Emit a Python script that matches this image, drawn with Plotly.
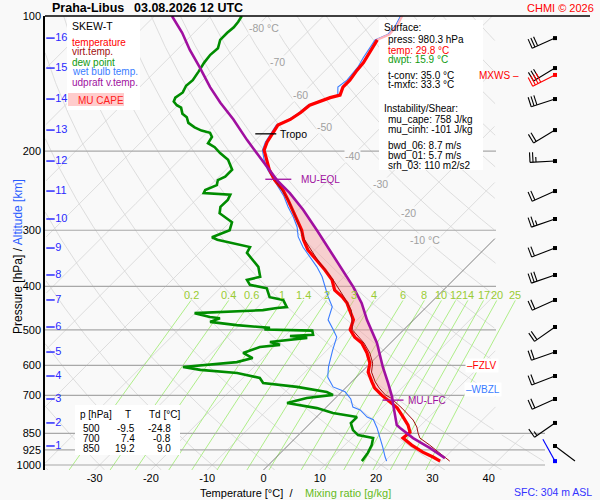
import numpy as np
import plotly.graph_objects as go

# ---- sounding Praha-Libus 03.08.2026 12 UTC ----
temp_p = [100, 102, 105, 110, 113, 117, 122, 127, 132, 139, 144, 150, 152, 155, 158,
          164, 170, 175, 182, 186, 191, 199, 209, 220, 232, 244, 257, 270, 285, 300,
          315, 332, 350, 368, 387, 408, 422, 436, 452, 475, 500, 519, 535, 563, 593,
          621, 653, 674, 698, 746, 782, 815, 845, 871, 903, 936, 960, 980.3]
temp_t = [-56.0, -55.7, -55.2, -55.0, -56.2, -55.7, -55.2, -54.6, -54.4, -53.9, -53.9, -53.0, -54.3, -55.3, -56.6,
          -56.9, -57.5, -58.7, -58.2, -58.0, -57.6, -56.7, -54.6, -52.3, -49.5, -46.3, -43.6, -41.1, -38.5, -35.8,
          -33.8, -31.2, -27.8, -24.6, -21.6, -19.3, -16.8, -14.8, -13.1, -10.7, -9.5, -7.4, -5.1, -2.4, -0.1,
          1.2, 3.6, 5.2, 7.6, 12.7, 15.4, 17.7, 19.3, 19.1, 21.9, 25.1, 27.8, 29.8]

virt_p = [232, 257, 285, 315, 350, 387, 422, 452, 500, 535, 563, 593, 621, 653, 674,
          698, 709, 747, 794, 823, 849, 871, 903, 940, 980.3]
virt_t = [-49.4, -43.5, -38.4, -33.6, -27.6, -21.4, -16.5, -12.8, -9.1, -4.7, -1.9, 0.4, 1.8, 4.2, 6.0,
          8.3, 9.8, 13.6, 17.7, 19.6, 20.9, 22.1, 25.1, 28.3, 31.5]

dew_p = [100, 103, 106, 109, 113, 118, 122, 127, 133, 139, 143, 148, 152, 155, 158, 160,
         165, 168, 173, 177, 180, 182, 186, 192, 196, 202, 209, 213, 220, 228, 232, 238,
         244, 248, 250, 257, 266, 275, 288, 300, 311, 315, 324, 327, 337, 350, 362, 381,
         387, 397, 404, 423, 429, 445, 447, 452, 459, 468, 471, 480, 488, 495, 499, 502,
         513, 516, 521, 532, 540, 546, 563, 578, 590, 605, 614, 624, 640, 657, 670, 688,
         698, 709, 728, 747, 766, 782, 807, 836, 858, 871, 903, 940, 980.3]
dew_t = [-84.5, -84.1, -83.9, -84.1, -84.1, -83.0, -83.2, -82.9, -82.3, -81.8, -82.0, -81.4, -81.8, -81.4, -80.2, -79.0,
         -77.7, -76.3, -75.0, -73.1, -71.3, -69.4, -68.3, -67.9, -66.0, -64.0, -61.4, -60.5, -58.9, -58.9, -59.6, -58.9,
         -60.1, -59.8, -54.8, -54.3, -54.4, -53.4, -49.6, -48.6, -50.5, -49.1, -44.1, -42.0, -41.5, -39.2, -37.0, -34.9,
         -36.7, -35.3, -31.7, -29.6, -26.7, -24.8, -26.4, -28.5, -40.1, -36.7, -34.7, -35.8, -30.5, -24.1, -24.8, -16.1,
         -15.2, -19.1, -15.7, -21.6, -19.3, -22.5, -24.4, -21.8, -23.9, -32.6, -29.0, -21.9, -17.0, -15.5, -8.8, -2.6,
         -1.0, -5.1, -7.7, -1.5, 2.2, 7.2, 7.2, 8.8, 10.6, 13.8, 14.8, 15.5, 15.9]

wet_p = [100, 105, 110, 113, 124, 130, 139, 144, 150, 152, 158, 165, 170, 175, 182, 191, 199, 209, 220, 234,
         252, 266, 280, 295, 310, 327, 344, 362, 381, 401, 422, 444, 475, 500, 519, 555, 604, 637, 670, 687,
         713, 743, 754, 782, 793, 827, 866, 912, 960, 980.3]
wet_t = [-56.3, -55.5, -55.3, -56.6, -55.5, -54.8, -54.4, -54.8, -53.4, -54.6, -56.9, -57.2, -57.8, -59.0, -58.5,
         -57.9, -57.0, -55.0, -52.6, -49.1, -45.0, -42.4, -39.7, -37.2, -35.3, -32.6, -29.6, -26.6, -23.9, -21.6,
         -19.3, -16.8, -15.2, -12.5, -10.6, -9.0, -6.8, -5.1, -2.4, 0.6, 2.9, 4.7, 6.5, 9.0, 10.6, 12.7, 14.8,
         17.1, 19.3, 20.3]

parcel_p = [100, 109, 119, 130, 144, 156, 170, 189, 202, 217, 232, 248, 270, 300, 332, 368, 401, 436, 475,
            535, 605, 657, 706, 728, 815, 827, 871, 917, 965]
parcel_t = [-96.9, -92.1, -87.7, -82.9, -77.5, -72.9, -67.6, -61.5, -57.5, -53.2, -49.1, -44.5, -39.2, -33.1,
            -27.3, -21.4, -16.6, -12.2, -8.3, -2.4, 2.9, 6.7, 9.9, 11.1, 15.7, 16.8, 20.9, 25.7, 30.1]

TROPO_P, EQL_P, LFC_P = 183, 231, 717
FZLV_P, WBZL_P = 599, 678

# altitude scale (km) and winds at each km
km_levels = [16, 15, 14, 13, 12, 11, 10, 9, 8, 7, 6, 5, 4, 3, 2, 1]
km_pres = [112.0, 130.6, 153.1, 179.5, 210.4, 245.4, 283.2, 328.7, 377.4, 429.0, 492.8, 560.3, 633.6, 712.9, 806.0, 907.1]
wind_dir = [246, 239, 252, 239, 267, 246, 251, 249, 251, 246, 235, 251, 249, 246, 235, 127]
wind_spd = [30, 30, 30, 20, 25, 20, 25, 20, 30, 20, 20, 20, 20, 20, 15, 3]
MXWS_P, MXWS_DIR, MXWS_SPD = 135.3, 243, 40
SFC_P, SFC_DIR, SFC_SPD = 980.3, 331, 3

mix_ratios = [0.2, 0.4, 0.6, 1, 1.4, 2, 3, 4, 6, 8, 10, 12, 14, 17, 20, 25]
iso_labels = [-80, -70, -60, -50, -40, -30, -20, -10]
iso_label_p = [106.5, 126.5, 150, 177, 205, 237, 274, 315]

p_ticks = [100, 200, 300, 400, 500, 600, 700, 850, 925, 1000]
t_ticks = [-30, -20, -10, 0, 10, 20, 30, 40]

tab_p = [500, 700, 850]
tab_t = [-9.5, 7.4, 19.2]
tab_td = [-24.8, -0.8, 9.0]

# ---- diagram geometry ----
P_BOT = 1026.0          # pressure at the lower plot edge
DEG_PX = 5.63           # pixels per degree
DEC_PX = 449.0          # pixels per pressure decade
SKEW = DEC_PX / DEG_PX  # isotherm shift (deg) per decade
PL, PR, PT, PB = 45, 600, 16, 470
X0 = -(263.5 - PL) / DEG_PX
X1 = X0 + (PR - PL) / DEG_PX
X_EDGE = (496 - 263.5) / DEG_PX
X_EDGE_LOW = (545 - 263.5) / DEG_PX
STN_X = (555 - 263.5) / DEG_PX

FONT = "Liberation Sans, Arial, sans-serif"
BG = "#f9f9f9"
RED, DRED, GREEN, BLUE, PURPLE = "#ff0000", "#a01010", "#008c00", "#3a7dff", "#a010a0"
KM_BLUE = "#2a2aff"


def skx(t, p):
    return np.asarray(t, float) + SKEW * np.log10(P_BOT / np.asarray(p, float))


def px2x(px):
    return X0 + (px - PL) / DEG_PX


def py2p(py):
    return 10 ** (np.log10(P_BOT) - (PB - py) / DEC_PX)


def ax(px):
    return (px - PL) / (PR - PL)


def ay(py):
    return (PB - py) / (PB - PT)


def edge(p):
    return np.where(p >= 850, X_EDGE_LOW, X_EDGE)


def clipped(xv, pv, right):
    ox, oy = [], []
    for x, p, e in zip(xv, pv, right):
        if X0 <= x <= e:
            ox.append(float(x)); oy.append(float(p))
        elif ox and ox[-1] is not None:
            ox.append(None); oy.append(None)
    if ox and ox[-1] is not None:
        ox.append(None); oy.append(None)
    return ox, oy


fig = go.Figure()


def line(xs, ys, color, width):
    fig.add_trace(go.Scatter(x=xs, y=ys, mode="lines", line=dict(color=color, width=width),
                             hoverinfo="skip", connectgaps=False))


pg = np.geomspace(100, P_BOT, 260)

# isotherms
gx, gy = [], []
for t in range(-130, 60, 10):
    if t == 0:
        continue
    a, b = clipped(skx(t, pg), pg, edge(pg))
    gx += a; gy += b
# dry adiabats
for th in range(-40, 200, 10):
    tt = (th + 273.15) * (pg / 1000.0) ** 0.2857 - 273.15
    a, b = clipped(skx(tt, pg), pg, edge(pg))
    gx += a; gy += b
line(gx, gy, "#d6d6d6", 0.8)

# mixing ratio lines
pm = np.geomspace(430, P_BOT, 60)
mx, my = [], []
for w in mix_ratios:
    e = w * pm / (622.0 + w)
    lg = np.log(e / 6.112)
    td = 243.5 * lg / (17.67 - lg)
    mx += list(skx(td, pm)) + [None]
    my += list(pm) + [None]
line(mx, my, "#a6ec7c", 0.9)

# 0 degC isotherm
a, b = clipped(skx(0, pg), pg, edge(pg))
line(a, b, "#606060", 0.8)

# isobars
ix, iy = [], []
for p in p_ticks[1:]:
    xr = X_EDGE_LOW if p >= 850 else X_EDGE
    ix += [X0, xr, None]; iy += [p, p, None]
line(ix, iy, "#a8a8a8", 1.2)


def box(px0, py0, px1, py1, color):
    xs = [px2x(px0), px2x(px1), px2x(px1), px2x(px0), px2x(px0)]
    ys = [py2p(py0), py2p(py0), py2p(py1), py2p(py1), py2p(py0)]
    fig.add_trace(go.Scatter(x=xs, y=ys, mode="lines", fill="toself", fillcolor=color,
                             line=dict(width=0, color=color), hoverinfo="skip"))


box(67, 16, 140, 110, "white")
box(379, 20, 483, 170, "white")
box(75, 405, 180, 455, "white")
box(68, 93, 124, 106, "#ffcccc")

# CAPE area between parcel and temperature
lp = np.linspace(np.log10(EQL_P), np.log10(LFC_P), 80)
par_x = np.interp(lp, np.log10(parcel_p), skx(parcel_t, parcel_p))
tmp_x = np.interp(lp, np.log10(temp_p), skx(temp_t, temp_p))
fig.add_trace(go.Scatter(x=np.concatenate([par_x, tmp_x[::-1]]),
                         y=np.concatenate([10 ** lp, 10 ** lp[::-1]]),
                         mode="lines", fill="toself", fillcolor="rgba(245,150,150,0.42)",
                         line=dict(width=0), hoverinfo="skip"))

# profiles
line(list(skx(wet_t, wet_p)), wet_p, BLUE, 1.1)
line(list(skx(dew_t, dew_p)), dew_p, GREEN, 2.6)
tp = np.array(temp_p); tt = np.array(temp_t)
up = tp <= 113
low = tp >= 113
line(list(skx(tt[up], tp[up])), list(tp[up]), "#ffb0b8", 2.2)
line(list(skx(tt[low], tp[low])), list(tp[low]), RED, 3.2)
line(list(skx(virt_t, virt_p)), virt_p, DRED, 1.0)
line(list(skx(parcel_t, parcel_p)), parcel_p, PURPLE, 2.6)


# level markers
def level_mark(p, prof_p, prof_t, left_px, right_px, color):
    xc = float(np.interp(np.log10(p), np.log10(prof_p), skx(prof_t, prof_p)))
    line([xc - left_px / DEG_PX, xc + right_px / DEG_PX], [p, p], color, 1.3)
    return xc + right_px / DEG_PX


tropo_end = level_mark(TROPO_P, temp_p, temp_t, 17, 4, "black")
eql_end = level_mark(EQL_P, parcel_p, parcel_t, 11, 15, PURPLE)
lfc_end = level_mark(LFC_P, parcel_p, parcel_t, 10, 11, PURPLE)

# altitude scale
fig.add_trace(go.Scatter(x=[px2x(50.5)] * len(km_levels), y=km_pres, mode="markers+text",
                         marker=dict(symbol="line-ew", size=6, line=dict(color=KM_BLUE, width=1.5)),
                         text=[str(k) for k in km_levels], textposition="middle right",
                         textfont=dict(color=KM_BLUE, size=11, family=FONT), hoverinfo="skip"))

# wind barbs
STAFF, FEATH, GAP = 25.0, 10.0, 3.0


def barb(p0, wdir, wspd):
    a = np.deg2rad(wdir)
    ux, uy = np.sin(a), -np.cos(a)
    bx, by = -uy, ux
    xs, ys = [], []

    def seg(q0, q1):
        for dx, dy in (q0, q1):
            xs.append(STN_X + dx / DEG_PX)
            ys.append(p0 * 10 ** (dy / DEC_PX))
        xs.append(None); ys.append(None)

    seg((0, 0), (ux * STAFF, uy * STAFF))
    n_full, n_half = int(wspd // 10), int(wspd % 10 >= 5)
    for k in range(n_full + n_half):
        d = STAFF - k * GAP
        ln = FEATH if k < n_full else FEATH / 2
        seg((ux * d, uy * d), (ux * d + bx * ln, uy * d + by * ln))
    return xs, ys


bxs, bys = [], []
for p, d, s in zip(km_pres, wind_dir, wind_spd):
    a, b = barb(p, d, s)
    bxs += a; bys += b
line(bxs, bys, "black", 1.1)
a, b = barb(MXWS_P, MXWS_DIR, MXWS_SPD)
line(a, b, RED, 1.1)
a, b = barb(SFC_P, SFC_DIR, SFC_SPD)
line(a, b, "#0000ff", 1.1)
for ps, col in ((km_pres, "black"), ([MXWS_P], RED), ([SFC_P], "#0000ff")):
    fig.add_trace(go.Scatter(x=[STN_X] * len(ps), y=ps, mode="markers",
                             marker=dict(symbol="square", size=4, color=col), hoverinfo="skip"))

# ---- annotations ----
ann = []


def txt(px, py, s, color="black", size=10, anchor="left", bold=False, bg=None):
    if bold:
        s = "<b>" + s + "</b>"
    d = dict(x=ax(px), y=ay(py), xref="paper", yref="paper", text=s, showarrow=False,
             xanchor=anchor, yanchor="middle", font=dict(color=color, size=size, family=FONT))
    if bg:
        d.update(bgcolor=bg, borderpad=1)
    ann.append(d)


txt(50, 8, "Praha-Libus", size=12.5, bold=True)
txt(132, 8, "03.08.2026 12 UTC", size=12.5, bold=True)
txt(596, 8, "CHMI © 2026", color=RED, size=11, anchor="right")

txt(70, 26, "SKEW-T", size=10.5)
txt(70, 42, "temperature", RED)
txt(70, 52, "virt.temp.", DRED)
txt(70, 62, "dew point", "#109a10")
txt(70, 72, "wet bulb temp.", BLUE)
txt(70, 82, "udpraft v.temp.", PURPLE)
txt(76, 100, "MU CAPE", "#ff2020")

info = [("Surface:", 382, 28, "black"),
        ("press: 980.3 hPa", 386, 40, "black"),
        ("temp: 29.8 °C", 386, 50, RED),
        ("dwpt: 15.9 °C", 386, 60, "#109a10"),
        ("t-conv: 35.0 °C", 386, 75, "black"),
        ("t-mxfc: 33.3 °C", 386, 84, "black"),
        ("Instability/Shear:", 382, 108, "black"),
        ("mu_cape: 758 J/kg", 386, 119, "black"),
        ("mu_cinh: -101 J/kg", 386, 129, "black"),
        ("bwd_06: 8.7 m/s", 386, 145, "black"),
        ("bwd_01: 5.7 m/s", 386, 155, "black"),
        ("srh_03: 110 m2/s2", 386, 165, "black")]
for s, x, y, c in info:
    txt(x, y, s, c)

txt(78, 414, "p [hPa]")
txt(128, 414, "T", anchor="center")
txt(147, 414, "Td [°C]")
for i, (p, t, d) in enumerate(zip(tab_p, tab_t, tab_td)):
    y = 428 + 10 * i
    txt(102, y, f"{p}", anchor="right")
    txt(137, y, f"{t:.1f}", anchor="right")
    txt(173, y, f"{d:.1f}", anchor="right")

txt(198, 493, "Temperature [°C]  /", size=11)
txt(303, 493, "Mixing ratio [g/kg]", "#66bb22", size=11)
txt(512, 492, "SFC: 304 m ASL", "#3333ff", size=10.5)
txt(521, 75, "MXWS –", RED, anchor="right")
txt(465, 365, "–FZLV", RED, bg="white")
txt(464, 389, "–WBZL", BLUE, bg="white")

ann.append(dict(x=ax(9), y=ay(257), xref="paper", yref="paper", textangle=-90, showarrow=False,
                text="Pressure [hPa] / <span style='color:#2a5cff'>Altitude [km]</span>",
                font=dict(size=12, family=FONT, color="black")))

for t, p in zip(iso_labels, iso_label_p):
    s = f"{t} °C" if t in (-80, -10) else f"{t}"
    sh = 9 if t == -80 else (-12 if t == -10 else 0)
    ann.append(dict(x=float(skx(t, p)), y=np.log10(p), xref="x", yref="y", text=s, showarrow=False,
                    xshift=sh, bgcolor=BG, borderpad=0, font=dict(size=10.5, color="#a0a0a0", family=FONT)))

for w in mix_ratios:
    e = w * 430 / (622.0 + w)
    lg = np.log(e / 6.112)
    td = 243.5 * lg / (17.67 - lg)
    ann.append(dict(x=float(skx(td, 430)), y=np.log10(418), xref="x", yref="y", text=f"{w:g}",
                    showarrow=False, font=dict(size=11, color="#99cc33", family=FONT)))

for xe, p, s, c in ((tropo_end, TROPO_P, "Tropo", "black"), (eql_end, EQL_P, "MU-EQL", PURPLE),
                    (lfc_end, LFC_P, "MU-LFC", PURPLE)):
    ann.append(dict(x=xe, y=np.log10(p), xref="x", yref="y", text=s, showarrow=False,
                    xanchor="left", xshift=2 if s != "MU-EQL" else 8,
                    font=dict(size=10.5 if s == "Tropo" else 10, color=c, family=FONT)))

fig.update_layout(
    width=600, height=500,
    margin=dict(l=PL, r=600 - PR, t=PT, b=500 - PB),
    paper_bgcolor=BG, plot_bgcolor=BG,
    showlegend=False,
    font=dict(family=FONT, size=11, color="black"),
    annotations=ann,
    shapes=[dict(type="line", xref="paper", yref="paper", x0=0, x1=ax(590), y0=1, y1=1,
                 line=dict(color="black", width=1.6))],
    xaxis=dict(range=[X0, X1], showgrid=False, zeroline=False, showline=False,
               tickvals=t_ticks, ticktext=[str(t) for t in t_ticks], ticks="",
               tickfont=dict(size=11, color="black")),
    yaxis=dict(type="log", range=[np.log10(P_BOT), 2], showgrid=False, zeroline=False,
               showline=True, linecolor="black", linewidth=1.5, ticks="",
               tickvals=p_ticks, ticktext=[str(p) for p in p_ticks],
               tickfont=dict(size=11, color="black")),
)

# page body margin would shift the figure; remove it
fig.write_html("out.html", config={"displayModeBar": False},
               post_script="document.body.style.margin='0';document.body.style.overflow='hidden';")
